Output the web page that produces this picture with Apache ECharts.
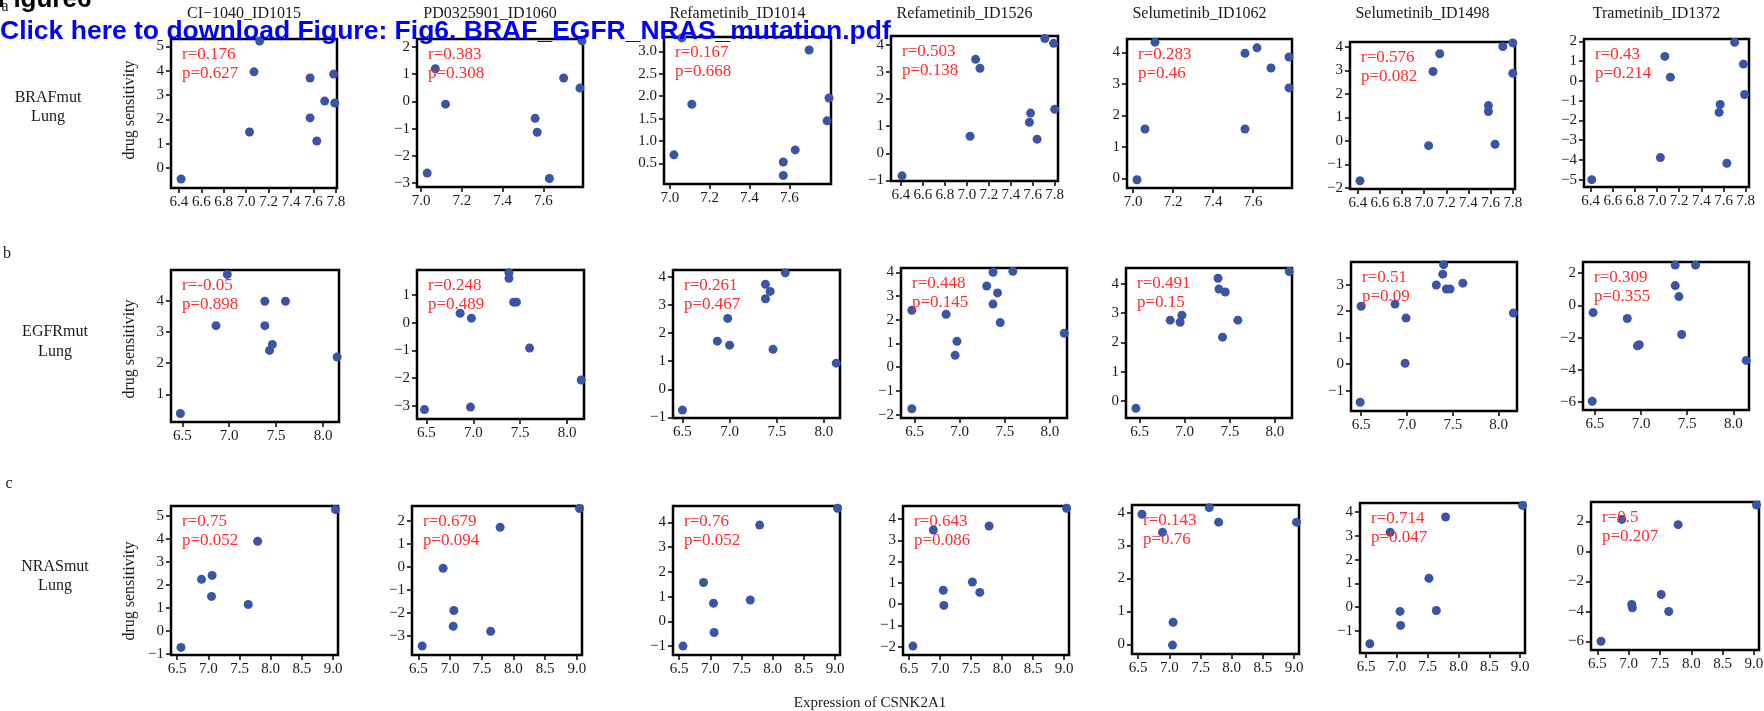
<!DOCTYPE html>
<html>
<head>
<meta charset="utf-8">
<script src="https://cdn.jsdelivr.net/npm/echarts@6/dist/echarts.min.js"></script>
<style>
html, body { margin: 0; padding: 0; background: #fff; }
#chart { width: 1764px; height: 711px; }
</style>
</head>
<body>
<div id="chart"></div>
<script>
// ---- data ----
var drugs = ['CI\u22121040_ID1015', 'PD0325901_ID1060', 'Refametinib_ID1014', 'Refametinib_ID1526',
  'Selumetinib_ID1062', 'Selumetinib_ID1498', 'Trametinib_ID1372'];
var mutations = ['BRAFmut', 'EGFRmut', 'NRASmut'];
var tissue = 'Lung';

// BRAF mutant lung
var brafExpr = [
  [6.42, 7.03, 7.07, 7.12, 7.57, 7.57, 7.63, 7.70, 7.78, 7.79],
  [7.03, 7.07, 7.12, 7.56, 7.57, 7.63, 7.70, 7.78, 7.79],
  [7.02, 7.06, 7.11, 7.57, 7.57, 7.63, 7.70, 7.79, 7.80],
  [6.41, 7.03, 7.08, 7.12, 7.58, 7.57, 7.64, 7.71, 7.79, 7.80],
  [7.02, 7.06, 7.11, 7.56, 7.56, 7.62, 7.69, 7.78, 7.78],
  [6.42, 7.04, 7.08, 7.14, 7.58, 7.58, 7.64, 7.71, 7.80, 7.80],
  [6.41, 7.03, 7.07, 7.12, 7.57, 7.56, 7.63, 7.70, 7.78, 7.79]
];
var brafSens = [
  [-0.45, 1.48, 3.95, 5.22, 3.70, 2.06, 1.11, 2.75, 3.86, 2.67],
  [-2.63, 1.20, -0.10, -0.62, -1.13, -2.83, 0.86, 0.49, 2.22],
  [0.69, 3.30, 1.82, 0.53, 0.23, 0.80, 3.03, 1.45, 1.96],
  [-0.83, 0.63, 3.46, 3.13, 1.48, 1.14, 0.52, 4.23, 4.05, 1.62],
  [-0.04, 1.57, 4.32, 3.97, 1.57, 4.14, 3.50, 3.85, 2.87],
  [-1.69, -0.20, 2.95, 3.70, 1.50, 1.25, -0.14, 4.01, 4.16, 2.87],
  [-5.00, -3.88, 1.24, 0.19, -1.19, -1.59, -4.17, 1.95, 0.85, -0.69]
];
var brafR = ['0.176', '0.383', '0.167', '0.503', '0.283', '0.576', '0.43'];
var brafP = ['0.627', '0.308', '0.668', '0.138', '0.46', '0.082', '0.214'];

// EGFR mutant lung
var egfrExpr = [
  [6.48, 6.86, 6.98, 7.38, 7.38, 7.43, 7.46, 7.60, 8.15],
  [6.48, 6.86, 6.98, 6.97, 7.38, 7.38, 7.43, 7.46, 7.60, 8.15],
  [6.50, 6.87, 6.98, 7.00, 7.38, 7.38, 7.43, 7.46, 7.59, 8.13],
  [6.47, 6.47, 6.85, 6.95, 6.97, 7.30, 7.37, 7.37, 7.42, 7.45, 7.59, 8.16],
  [6.46, 6.84, 6.95, 6.97, 7.37, 7.38, 7.42, 7.45, 7.59, 8.16],
  [6.49, 6.50, 6.87, 6.98, 6.99, 7.32, 7.39, 7.40, 7.43, 7.47, 7.61, 8.16],
  [6.48, 6.47, 6.85, 6.96, 6.98, 7.37, 7.37, 7.41, 7.44, 7.59, 8.14]
];
var egfrSens = [
  [0.39, 3.20, 4.84, 3.98, 3.20, 2.41, 2.60, 3.98, 2.20],
  [-3.14, 0.34, 0.16, -3.05, 1.80, 1.60, 0.74, 0.74, -0.92, -2.07],
  [-0.74, 1.71, 2.52, 1.57, 3.22, 3.73, 3.48, 1.42, 4.14, 0.93],
  [2.40, -1.75, 2.23, 0.50, 1.09, 3.42, 4.00, 2.66, 3.13, 1.88, 4.04, 1.43],
  [-0.25, 2.76, 2.69, 2.93, 4.19, 3.82, 2.18, 3.72, 2.76, 4.42],
  [-1.44, 2.19, 2.27, 0.03, 1.74, 2.99, 3.40, 3.76, 2.84, 2.84, 3.06, 1.93],
  [-0.45, -5.94, -0.82, -2.51, -2.44, 1.22, 2.49, 0.54, -1.81, 2.49, -3.41]
];
var egfrR = ['-0.05', '0.248', '0.261', '0.448', '0.491', '0.51', '0.309'];
var egfrP = ['0.898', '0.489', '0.467', '0.145', '0.15', '0.09', '0.355'];

// NRAS mutant lung
var nrasExpr = [
  [6.56, 6.89, 7.06, 7.05, 7.64, 7.79, 9.04],
  [6.56, 6.89, 7.06, 7.05, 7.64, 7.79, 9.04],
  [6.56, 6.89, 7.05, 7.06, 7.64, 7.79, 9.04],
  [6.56, 6.89, 7.05, 7.06, 7.52, 7.64, 7.79, 9.04],
  [6.56, 6.89, 7.06, 7.05, 7.64, 7.79, 9.04],
  [6.56, 6.89, 7.05, 7.06, 7.52, 7.64, 7.79, 9.04],
  [6.56, 6.89, 7.05, 7.06, 7.52, 7.64, 7.79, 9.04]
];
var nrasSens = [
  [-0.71, 2.24, 2.41, 1.50, 1.15, 3.89, 5.27],
  [-3.45, -0.06, -1.90, -2.59, -2.81, 1.72, 2.54],
  [-1.00, 1.57, 0.73, -0.45, 0.86, 3.89, 4.57],
  [-1.97, 3.48, 0.65, -0.06, 1.04, 0.55, 3.67, 4.50],
  [3.95, 3.40, 0.67, -0.02, 4.15, 3.71, 3.71],
  [-1.54, 3.15, -0.18, -0.77, 1.21, -0.14, 3.79, 4.28],
  [-6.00, 2.13, -3.54, -3.76, -2.88, -4.01, 1.78, 3.09]
];
var nrasR = ['0.75', '0.679', '0.76', '0.643', '0.143', '0.714', '0.5'];
var nrasP = ['0.052', '0.094', '0.052', '0.086', '0.76', '0.047', '0.207'];

// tick labels
var xTicksWide = ['6.4', '6.6', '6.8', '7.0', '7.2', '7.4', '7.6', '7.8'];
var xTicksNarrow = ['7.0', '7.2', '7.4', '7.6'];
var xTicksEgfr = ['6.5', '7.0', '7.5', '8.0'];
var xTicksNras = ['6.5', '7.0', '7.5', '8.0', '8.5', '9.0'];
var brafYTicks = [['0', '1', '2', '3', '4', '5'], ['-3', '-2', '-1', '0', '1', '2'],
  ['0.5', '1.0', '1.5', '2.0', '2.5', '3.0'], ['-1', '0', '1', '2', '3', '4'], ['0', '1', '2', '3', '4'],
  ['-2', '-1', '0', '1', '2', '3', '4'], ['-5', '-4', '-3', '-2', '-1', '0', '1', '2']];
var egfrYTicks = [['1', '2', '3', '4'], ['-3', '-2', '-1', '0', '1'], ['-1', '0', '1', '2', '3', '4'],
  ['-2', '-1', '0', '1', '2', '3', '4'], ['0', '1', '2', '3', '4'], ['-1', '0', '1', '2', '3'],
  ['-6', '-4', '-2', '0', '2']];
var nrasYTicks = [['-1', '0', '1', '2', '3', '4', '5'], ['-3', '-2', '-1', '0', '1', '2'],
  ['-1', '0', '1', '2', '3', '4'], ['-2', '-1', '0', '1', '2', '3', '4'], ['0', '1', '2', '3', '4'],
  ['-1', '0', '1', '2', '3', '4'], ['-6', '-4', '-2', '0', '2']];

// axis extents
var brafXRange = [[6.33, 7.81], [6.98, 7.795], [6.97, 7.81], [6.31, 7.83], [6.97, 7.795], [6.33, 7.82], [6.34, 7.83]];
var brafYRange = [[-0.82, 5.30], [-3.14, 2.29], [0.04, 3.32], [-1.02, 4.32], [-0.30, 4.42], [-2.04, 4.20], [-5.37, 2.12]];
var egfrXRange = [[6.38, 8.17], [6.40, 8.18], [6.40, 8.17], [6.35, 8.19], [6.35, 8.19], [6.39, 8.20], [6.37, 8.17]];
var egfrYRange = [[0.12, 4.98], [-3.48, 1.90], [-1.02, 4.24], [-2.14, 4.18], [-0.58, 4.54], [-1.77, 3.86], [-6.48, 2.68]];
var nrasXRange = [[6.40, 9.08], [6.40, 9.08], [6.40, 9.08], [6.40, 9.08], [6.40, 9.08], [6.40, 9.08], [6.40, 9.08]];
var nrasYRange = [[-1.04, 5.42], [-3.84, 2.65], [-1.36, 4.66], [-2.39, 4.61], [-0.29, 4.23], [-1.93, 4.38], [-6.58, 3.29]];

// ---- layout (pixels) ----
var boxLeft = [[171, 417, 664, 891, 1127, 1350, 1584], [171, 417, 673, 901, 1126, 1351, 1583], [171, 412, 673, 903, 1132, 1360, 1591]];
var boxRight = [[337, 583, 831, 1058, 1292, 1515, 1749], [339, 584, 840, 1067, 1292, 1517, 1749], [338, 582, 840, 1069, 1299, 1525, 1759]];
var boxTop = [[39, 39, 37, 36, 39, 42, 39], [270, 270, 270, 268, 268, 262, 262], [506, 506, 506, 506, 505, 503, 502]];
var boxBottom = [[188, 187, 184, 181, 188, 189, 187], [422, 419, 418, 418, 418, 411, 410], [655, 655, 655, 655, 654, 653, 650]];

var SERIF = '"Liberation Serif", "DejaVu Serif", serif';
var SANS = '"Liberation Sans", Arial, sans-serif';
var INK = '#1a1a1a';
var DOT = '#3a55a5';
var RED = '#ff2d2d';

var rows = [
  { expr: brafExpr, sens: brafSens, r: brafR, p: brafP, xr: brafXRange, yr: brafYRange,
    xt: [xTicksWide, xTicksNarrow, xTicksNarrow, xTicksWide, xTicksNarrow, xTicksWide, xTicksWide], yt: brafYTicks },
  { expr: egfrExpr, sens: egfrSens, r: egfrR, p: egfrP, xr: egfrXRange, yr: egfrYRange,
    xt: [xTicksEgfr, xTicksEgfr, xTicksEgfr, xTicksEgfr, xTicksEgfr, xTicksEgfr, xTicksEgfr], yt: egfrYTicks },
  { expr: nrasExpr, sens: nrasSens, r: nrasR, p: nrasP, xr: nrasXRange, yr: nrasYRange,
    xt: [xTicksNras, xTicksNras, xTicksNras, xTicksNras, xTicksNras, xTicksNras, xTicksNras], yt: nrasYTicks }
];

function makeAxis(dim, idx, range, labels) {
  var vals = labels.map(Number);
  return {
    type: 'value', gridIndex: idx, min: range[0], max: range[1],
    axisLine: { show: true, onZero: false, lineStyle: { color: '#000', width: 2 } },
    axisTick: { show: true, inside: false, length: 5, customValues: vals, lineStyle: { color: '#000', width: 1.5 } },
    axisLabel: {
      show: true, customValues: vals, margin: dim === 'x' ? 7 : 7, hideOverlap: false,
      fontFamily: SERIF, fontSize: 15, color: INK,
      formatter: function (v) {
        var best = 0;
        for (var k = 1; k < vals.length; k++) {
          if (Math.abs(vals[k] - v) < Math.abs(vals[best] - v)) best = k;
        }
        return labels[best].replace('-', '\u2212');
      }
    },
    splitLine: { show: false }
  };
}

function txt(x, y, s, opt) {
  opt = opt || {};
  return {
    type: 'text', x: x, y: y, rotation: opt.rotation || 0, z: opt.z || 10,
    style: {
      text: s, fill: opt.fill || INK, fontFamily: opt.family || SERIF, fontSize: opt.size || 16,
      fontWeight: opt.weight || 'normal', align: opt.align || 'center', verticalAlign: 'middle'
    }
  };
}

var grids = [], xAxes = [], yAxes = [], series = [], graphics = [];

rows.forEach(function (row, ri) {
  for (var c = 0; c < 7; c++) {
    var i = ri * 7 + c;
    var L = boxLeft[ri][c], T = boxTop[ri][c];
    var W = boxRight[ri][c] - L, H = boxBottom[ri][c] - T;
    grids.push({ left: L, top: T, width: W, height: H, show: true, borderColor: '#000', borderWidth: 2.5,
      backgroundColor: 'rgba(0,0,0,0)', containLabel: false, outerBoundsMode: 'none' });
    xAxes.push(makeAxis('x', i, row.xr[c], row.xt[c]));
    yAxes.push(makeAxis('y', i, row.yr[c], row.yt[c]));
    series.push({
      type: 'scatter', xAxisIndex: i, yAxisIndex: i, symbolSize: 9, clip: false, silent: true,
      itemStyle: { color: DOT, opacity: 1 },
      data: row.expr[c].map(function (x, k) { return [x, row.sens[c][k]]; })
    });
    graphics.push(txt(L + 11, T + 16, 'r=' + row.r[c], { align: 'left', fill: RED, size: 17 }));
    graphics.push(txt(L + 11, T + 35, 'p=' + row.p[c], { align: 'left', fill: RED, size: 17 }));
    if (ri === 0) graphics.push(txt(L + W / 2 - 10, 14, drugs[c], { size: 16 }));
  }
});

// row labels, y label, panel letters
var rowLabelX = [48, 55, 55];
var rowLabelY = [[98, 117], [332, 352], [567, 586]];
var ylabY = [110, 349, 591];
var letters = [['a', 5, 7], ['b', 7, 254], ['c', 9, 484]];
for (var ri = 0; ri < 3; ri++) {
  graphics.push(txt(rowLabelX[ri], rowLabelY[ri][0], mutations[ri]));
  graphics.push(txt(rowLabelX[ri], rowLabelY[ri][1], tissue));
  graphics.push(txt(130, ylabY[ri], 'drug sensitivity', { rotation: Math.PI / 2 }));
  graphics.push(txt(letters[ri][1], letters[ri][2], letters[ri][0], { size: 16 }));
}
graphics.push(txt(870, 703, 'Expression of CSNK2A1', { size: 15 }));
graphics.push(txt(-2.5, 0, 'Figure6', { align: 'left', family: SANS, weight: 'bold', size: 26, fill: '#000', z: 5 }));
graphics.push(txt(0, 32, 'Click here to download Figure: Fig6. BRAF_EGFR_NRAS_mutation.pdf',
  { align: 'left', family: SANS, weight: 'bold', size: 26.5, fill: '#0000ff', z: 100 }));

var chart = echarts.init(document.getElementById('chart'), null, { renderer: 'canvas' });
chart.setOption({
  animation: false,
  backgroundColor: '#fff',
  grid: grids,
  xAxis: xAxes,
  yAxis: yAxes,
  series: series,
  graphic: graphics
});
</script>
</body>
</html>
